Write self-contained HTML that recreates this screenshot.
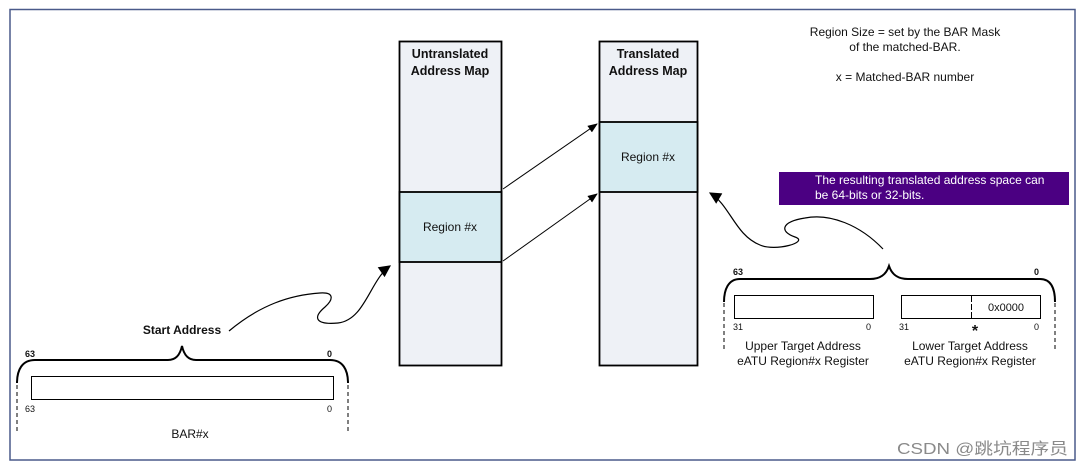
<!DOCTYPE html>
<html><head><meta charset="utf-8"><style>
html,body{margin:0;padding:0;background:#fff}
svg{display:block}
text{font-family:"Liberation Sans",Arial,sans-serif;fill:#111}
</style></head><body>
<svg width="1084" height="466" viewBox="0 0 1084 466" xmlns="http://www.w3.org/2000/svg">
<defs>
<marker id="a" viewBox="0 0 10 10" refX="9" refY="5" markerWidth="10" markerHeight="10" markerUnits="userSpaceOnUse" orient="auto"><path d="M0,1 L10,5 L0,9 z" fill="#000"/></marker>
<marker id="b" viewBox="0 0 10 10" refX="9" refY="5" markerWidth="16" markerHeight="12" markerUnits="userSpaceOnUse" orient="auto"><path d="M0,0 L10,5 L0,10 z" fill="#000"/></marker>
</defs>
<rect x="10" y="9.5" width="1065" height="450.5" fill="none" stroke="#4a5a8a" stroke-width="1.5"/>

<rect x="399.5" y="41.5" width="102" height="324" fill="#eef1f6" stroke="#000" stroke-width="1.8"/>
<rect x="399.5" y="192" width="102" height="70" fill="#d6ebf1" stroke="#000" stroke-width="1.8"/>
<text x="450" y="58" font-size="12.5" font-weight="bold" text-anchor="middle">Untranslated</text>
<text x="450" y="75" font-size="12.5" font-weight="bold" text-anchor="middle">Address Map</text>
<text x="450" y="231" font-size="12" text-anchor="middle">Region #x</text>

<rect x="599.5" y="41.5" width="98" height="324" fill="#eef1f6" stroke="#000" stroke-width="1.8"/>
<rect x="599.5" y="122" width="98" height="70" fill="#d6ebf1" stroke="#000" stroke-width="1.8"/>
<text x="648" y="58" font-size="12.5" font-weight="bold" text-anchor="middle">Translated</text>
<text x="648" y="75" font-size="12.5" font-weight="bold" text-anchor="middle">Address Map</text>
<text x="648" y="161" font-size="12" text-anchor="middle">Region #x</text>

<line x1="503" y1="189" x2="597" y2="124" stroke="#000" stroke-width="1" marker-end="url(#a)"/>
<line x1="503" y1="261" x2="597" y2="194" stroke="#000" stroke-width="1" marker-end="url(#a)"/>

<text x="905" y="36" font-size="12" text-anchor="middle">Region Size = set by the BAR Mask</text>
<text x="905" y="51" font-size="12" text-anchor="middle">of the matched-BAR.</text>
<text x="905" y="81" font-size="12" text-anchor="middle">x = Matched-BAR number</text>

<rect x="779" y="172" width="290" height="33" fill="#4b0082"/>
<text x="815" y="184" font-size="12" style="fill:#fff">The resulting translated address space can</text>
<text x="815" y="199" font-size="12" style="fill:#fff">be 64-bits or 32-bits.</text>

<text x="182" y="334" font-size="12" font-weight="bold" text-anchor="middle">Start Address</text>
<path d="M229,331 C260,305 290,295 320,293 C335,292 333,300 325,307 C312,318 316,325 338,323 C365,320 370,280 390,266" fill="none" stroke="#000" stroke-width="1.2" marker-end="url(#b)"/>
<path d="M17,383 C17,370 22,360 35,360 L168,360 C176,360 180,355 182,346 C184,355 188,360 196,360 L330,360 C343,360 348,370 348,383" fill="none" stroke="#000" stroke-width="2"/>
<line x1="17" y1="385" x2="17" y2="433" stroke="#000" stroke-dasharray="4,3"/>
<line x1="348" y1="385" x2="348" y2="433" stroke="#000" stroke-dasharray="4,3"/>
<rect x="31.5" y="376.5" width="302" height="23" fill="#fff" stroke="#000" stroke-width="1"/>
<text x="25" y="357" font-size="9" font-weight="bold">63</text>
<text x="327" y="357" font-size="9" font-weight="bold">0</text>
<text x="25" y="412" font-size="9">63</text>
<text x="327" y="412" font-size="9">0</text>
<text x="190" y="438" font-size="12" text-anchor="middle">BAR#x</text>

<path d="M883,249 C860,225 830,213 805,218 C780,222 780,232 795,237 C810,242 775,252 760,245 C735,235 730,205 710,193" fill="none" stroke="#000" stroke-width="1.2" marker-end="url(#b)"/>
<path d="M724,302 C724,290 728,279 740,279 L870,279 C880,279 886,275 889,266 C892,275 898,279 908,279 L1040,279 C1052,279 1055,290 1055,302" fill="none" stroke="#000" stroke-width="2"/>
<line x1="724" y1="303" x2="724" y2="352" stroke="#000" stroke-dasharray="4,3"/>
<line x1="1055" y1="303" x2="1055" y2="352" stroke="#000" stroke-dasharray="4,3"/>
<text x="733" y="275" font-size="9" font-weight="bold">63</text>
<text x="1034" y="275" font-size="9" font-weight="bold">0</text>
<rect x="734.5" y="295.5" width="139" height="23" fill="#fff" stroke="#000" stroke-width="1"/>
<rect x="901.5" y="295.5" width="139" height="23" fill="#fff" stroke="#000" stroke-width="1"/>
<line x1="971.5" y1="296" x2="971.5" y2="318" stroke="#000" stroke-dasharray="6,2"/>
<text x="1006" y="311" font-size="11" text-anchor="middle">0x0000</text>
<text x="733" y="330" font-size="9">31</text>
<text x="866" y="330" font-size="9">0</text>
<text x="899" y="330" font-size="9">31</text>
<text x="975" y="336" font-size="16" font-weight="bold" text-anchor="middle">*</text>
<text x="1034" y="330" font-size="9">0</text>
<text x="803" y="350" font-size="12" text-anchor="middle">Upper Target Address</text>
<text x="803" y="365" font-size="12" text-anchor="middle">eATU Region#x Register</text>
<text x="970" y="350" font-size="12" text-anchor="middle">Lower Target Address</text>
<text x="970" y="365" font-size="12" text-anchor="middle">eATU Region#x Register</text>

<text x="897" y="454" font-size="16" textLength="171" lengthAdjust="spacingAndGlyphs" style="fill:#8a8a8a;font-family:'Liberation Sans','Noto Sans CJK SC',sans-serif">CSDN @跳坑程序员</text>
</svg>
</body></html>
